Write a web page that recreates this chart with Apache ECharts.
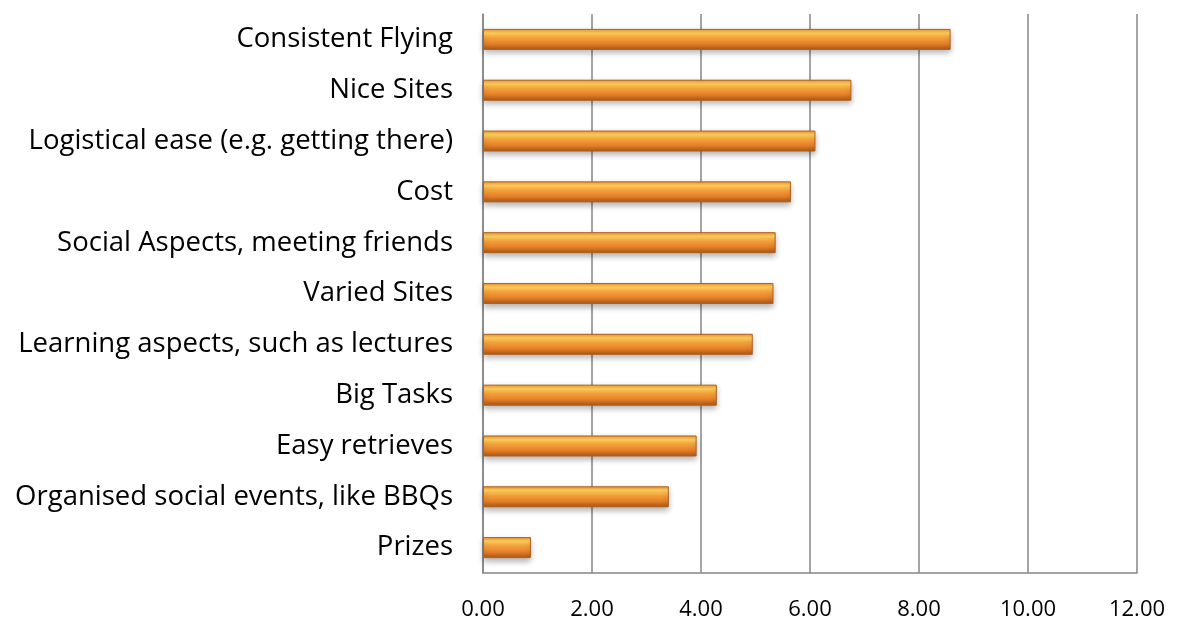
<!DOCTYPE html>
<html>
<head>
<meta charset="utf-8">
<script src="https://cdn.jsdelivr.net/npm/echarts@6/dist/echarts.min.js"></script>
</head>
<body style="margin:0;background:#fff">
<div id="container" style="width:1177px;height:621px"></div>
<script>
    var categories = ['Consistent Flying', 'Nice Sites', 'Logistical ease (e.g. getting there)', 'Cost',
        'Social Aspects, meeting friends', 'Varied Sites', 'Learning aspects, such as lectures',
        'Big Tasks', 'Easy retrieves', 'Organised social events, like BBQs', 'Prizes'];
    var scores = [8.58, 6.76, 6.10, 5.65, 5.37, 5.33, 4.95, 4.29, 3.92, 3.41, 0.88];

    var myChart = echarts.init(document.getElementById('container'), null, { renderer: 'canvas' });

    // bar fill: orange with a yellow highlight band, darker at the bottom
    var barFill = new echarts.graphic.LinearGradient(0, 0, 0, 1, [
        { offset: 0, color: '#f3922e' },
        { offset: 0.2, color: '#ffd35c' },
        { offset: 0.42, color: '#f6a23d' },
        { offset: 0.72, color: '#e47e26' },
        { offset: 1, color: '#a5561a' }
    ]);

    var option = {
        animation: false,
        grid: { left: 483, right: 40, top: 14, bottom: 46 },
        xAxis: {
            type: 'value',
            min: 0,
            max: 12,
            interval: 2,
            axisLine: { show: true, lineStyle: { color: '#868686', width: 1.5 } },
            axisTick: { show: false },
            axisLabel: {
                formatter: function (v) { return v.toFixed(2); },
                color: '#000',
                fontFamily: 'Open Sans',
                fontSize: 22,
                margin: 26
            },
            splitLine: { show: true, lineStyle: { color: '#868686', width: 1.5 } }
        },
        yAxis: {
            type: 'category',
            inverse: true,
            data: categories,
            axisLine: { show: true, lineStyle: { color: '#868686', width: 1.5 } },
            axisTick: { show: false },
            axisLabel: {
                color: '#000',
                fontFamily: 'Open Sans',
                fontSize: 27.5,
                margin: 30,
                padding: [0, 0, 6, 0]
            }
        },
        series: [{
            type: 'bar',
            data: scores,
            barWidth: 21,
            itemStyle: {
                color: barFill,
                borderColor: '#b0601f',
                borderWidth: 1,
                shadowColor: 'rgba(0,0,0,0.3)',
                shadowBlur: 6,
                shadowOffsetY: 3
            }
        }]
    };
    myChart.setOption(option);
</script>
</body>
</html>
